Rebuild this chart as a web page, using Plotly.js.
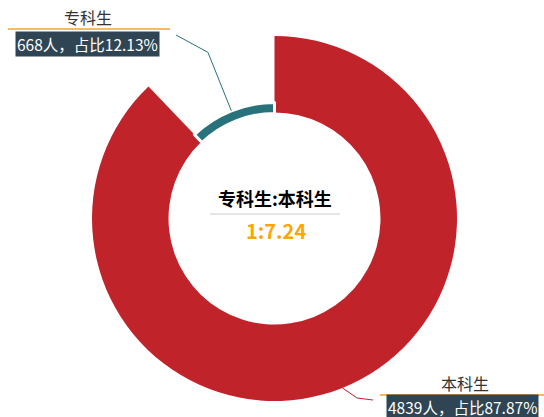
<!DOCTYPE html>
<html><head><meta charset="utf-8">
<script src="https://cdn.plot.ly/plotly-3.0.1.min.js"></script>
<style>html,body{margin:0;padding:0;background:#fff}#c{width:544px;height:417px}</style>
</head><body><div id="c"></div>
<script>
const categories = ['本科生', '专科生'];
const values = [4839, 668];
const unit = '人';
const colors = ['#C1232B', '#27727B'];

const W = 544, H = 417;
const cx = 274.5, cy = 218.5;
const R1 = 182.5, r1 = 106;      // main ring
const R2 = 116;                  // thin ring outer
const total = values.reduce((a, b) => a + b, 0);
const pct = values.map(v => (v / total * 100).toFixed(2));
const ratio = (values[0] / values[1]).toFixed(2);

const px = x => x / W, py = y => 1 - y / H;
function dom(R) { return {x: [px(cx - R), px(cx + R)], y: [py(cy + R), py(cy - R)]}; }
let acc = 0; const mid = values.map(v => { const m = acc + v / 2; acc += v; return m / total * 2 * Math.PI; });
function pt(a, r) { return [cx + r * Math.sin(a), cy - r * Math.cos(a)]; }

const common = {type: 'pie', values: values, labels: categories, sort: false, direction: 'clockwise',
  rotation: 0, textinfo: 'none', hoverinfo: 'none', showlegend: false};
const traces = [
  Object.assign({}, common, {domain: dom(R1), hole: r1 / R1,
    marker: {colors: [colors[0], 'rgba(0,0,0,0)'], line: {color: '#fff', width: 0}}}),
  Object.assign({}, common, {domain: dom(R2), hole: (r1 - 1) / R2,
    marker: {colors: ['rgba(0,0,0,0)', colors[1]], line: {color: ['rgba(0,0,0,0)', '#fff'], width: [0, 3]}}})
];

const t0 = pt(mid[1], R2), t1 = pt(mid[1], 179);
const b0 = pt(mid[0], R1), b1 = [373, 400];
function path(pts) { return pts.map((p, i) => (i ? 'L' : 'M') + px(p[0]) + ',' + py(p[1])).join(' '); }
const shapes = [
  {type: 'path', xref: 'paper', yref: 'paper', path: path([t0, t1, [176, 35]]), line: {color: colors[1], width: 1}},
  {type: 'path', xref: 'paper', yref: 'paper', path: path([b0, [357, 398], b1]), line: {color: colors[0], width: 1}},
  {type: 'line', xref: 'paper', yref: 'paper', x0: px(8), x1: px(170), y0: py(29), y1: py(29), line: {color: '#F6B964', width: 2}},
  {type: 'line', xref: 'paper', yref: 'paper', x0: px(380), x1: px(544), y0: py(395), y1: py(395), line: {color: '#F6B964', width: 2}},
  {type: 'line', xref: 'paper', yref: 'paper', x0: px(210), x1: px(340), y0: py(214), y1: py(214), line: {color: '#cccccc', width: 1}}
];
const F = '"Microsoft YaHei", "Noto Sans CJK SC", sans-serif';
const ann = (x, y, text, font, extra) => Object.assign({xref: 'paper', yref: 'paper', x: px(x), y: py(y),
  xanchor: 'center', yanchor: 'middle', showarrow: false, text: text, font: Object.assign({family: F}, font)}, extra || {});
const annotations = [
  ann(88, 17, categories[1], {size: 16, color: '#333'}),
  ann(87, 43.5, values[1] + unit + '，占比' + pct[1] + '%', {size: 15.5, color: '#fff'}, {bgcolor: '#2F4554', borderpad: 1}),
  ann(465, 383, categories[0], {size: 16, color: '#333'}),
  ann(462, 406.5, values[0] + unit + '，占比' + pct[0] + '%', {size: 15.5, color: '#fff'}, {bgcolor: '#2F4554', borderpad: 1}),
  ann(275, 198, '<b>' + categories[1] + ':' + categories[0] + '</b>', {size: 18, color: '#000'}),
  ann(276, 230, '<b>1:' + ratio + '</b>', {size: 20, color: '#FFA500'})
];
Plotly.newPlot('c', traces, {width: W, height: H, margin: {l: 0, r: 0, t: 0, b: 0},
  paper_bgcolor: '#fff', shapes: shapes, annotations: annotations}, {displayModeBar: false, staticPlot: true});
</script></body></html>
